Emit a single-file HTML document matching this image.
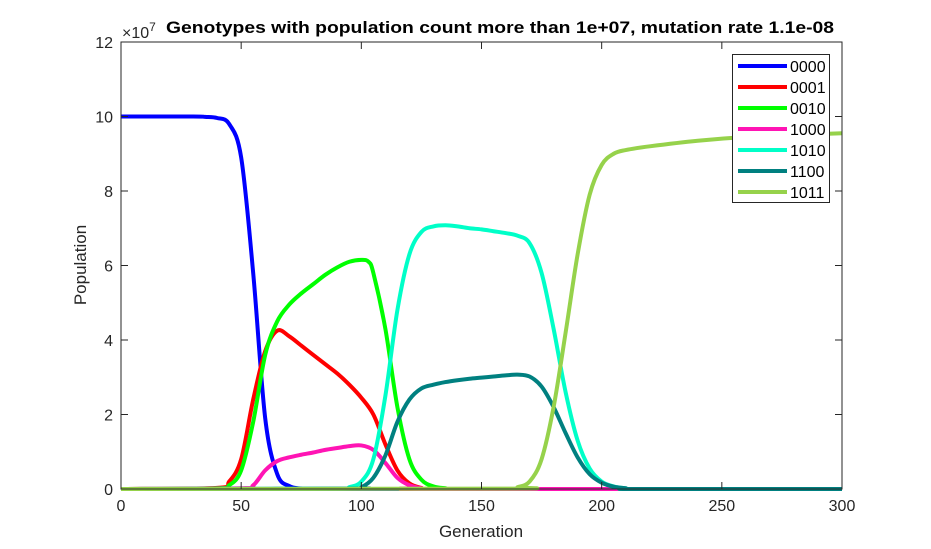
<!DOCTYPE html>
<html><head><meta charset="utf-8"><style>
body{margin:0;background:#fff;}
svg{display:block;font-family:"Liberation Sans",Arial,sans-serif;}
</style></head><body>
<svg id="chart" width="931" height="549">
<rect x="0" y="0" width="931" height="549" fill="#fff"/>
<g id="plot"></g>
<g id="axes"></g>
<text x="166" y="33" font-size="17" font-weight="bold" fill="#000" textLength="668" lengthAdjust="spacingAndGlyphs">Genotypes with population count more than 1e+07, mutation rate 1.1e-08</text>
<text x="122" y="38" font-size="16" fill="#262626">×10<tspan dy="-7" font-size="12">7</tspan></text>
<text x="481" y="537" text-anchor="middle" font-size="17" fill="#262626">Generation</text>
<text transform="translate(86,265) rotate(-90)" text-anchor="middle" font-size="17" fill="#262626">Population</text>
<g id="legend"></g>
</svg>
<script>
const xTicks=[0,50,100,150,200,250,300];
const yTicks=[0,2,4,6,8,10,12];
const seriesNames=["0000","0001","0010","1000","1010","1100","1011"];
const seriesColors=["#0000ff","#ff0000","#00ff00","#ff14b4","#00ffc8","#008080","#96d24b"];
const g0000=[0,30,35,40,45,50,55,60,65,70,75,80,300];
const v0000=[10,10,9.99,9.96,9.8,8.9,5.8,1.9,0.4,0.08,0.01,0,0];
const g0001=[0,40,45,50,55,60,65,70,75,80,85,90,95,100,105,110,115,120,125,130,300];
const v0001=[0,0.03,0.2,0.8,2.4,3.7,4.25,4.1,3.85,3.6,3.35,3.1,2.8,2.45,2.0,1.2,0.5,0.15,0.03,0,0];
const g0010=[0,40,45,50,55,60,65,70,75,80,85,90,95,100,103,105,110,115,120,125,130,135,140,300];
const v0010=[0,0.02,0.1,0.5,1.8,3.6,4.5,4.95,5.25,5.5,5.75,5.95,6.1,6.15,6.1,5.8,4.3,2.2,0.8,0.25,0.07,0.02,0,0];
const g1000=[0,50,55,60,65,70,75,80,85,90,95,100,105,110,115,120,125,130,300];
const v1000=[0,0.02,0.1,0.5,0.75,0.85,0.92,0.98,1.05,1.1,1.15,1.17,1.05,0.7,0.3,0.1,0.02,0,0];
const g1010=[0,90,95,100,105,110,115,120,125,130,135,140,145,150,155,160,165,170,175,180,185,190,195,200,205,210,215,300];
const v1010=[0,0.01,0.05,0.2,0.8,2.5,4.8,6.3,6.9,7.05,7.08,7.05,7.0,6.97,6.92,6.87,6.8,6.6,5.8,4.3,2.6,1.3,0.55,0.2,0.07,0.02,0,0];
const g1100=[0,95,100,105,110,115,120,125,130,135,140,145,150,155,160,165,170,175,180,185,190,195,200,205,210,215,300];
const v1100=[0,0.01,0.05,0.3,0.9,1.8,2.4,2.7,2.8,2.87,2.92,2.96,2.99,3.02,3.05,3.07,3.02,2.75,2.2,1.5,0.85,0.4,0.17,0.06,0.02,0,0];
const g1011=[0,160,165,170,175,180,185,190,195,200,205,210,220,240,260,280,300];
const v1011=[0,0.01,0.05,0.2,0.8,2.2,4.2,6.3,7.9,8.7,9.0,9.1,9.2,9.35,9.45,9.5,9.55];
const allGens=[g0000,g0001,g0010,g1000,g1010,g1100,g1011];
const allVals=[v0000,v0001,v0010,v1000,v1010,v1100,v1011];

const X0=121,X1=842,Y0=489,Y1=42;
const xs=v=>X0+(v-0)/(300-0)*(X1-X0);
const ys=v=>Y0-(v-0)/(12-0)*(Y0-Y1);
const NS="http://www.w3.org/2000/svg";
function mk(tag,attrs,parent){const e=document.createElementNS(NS,tag);for(const k in attrs)e.setAttribute(k,attrs[k]);parent.appendChild(e);return e;}
const plot=document.getElementById('plot'),axes=document.getElementById('axes'),legend=document.getElementById('legend');

function smoothPath(pts){
  let d="M"+pts[0][0].toFixed(2)+","+pts[0][1].toFixed(2);
  for(let i=0;i<pts.length-1;i++){
    const p0=pts[Math.max(0,i-1)],p1=pts[i],p2=pts[i+1],p3=pts[Math.min(pts.length-1,i+2)];
    const c1x=p1[0]+(p2[0]-p0[0])/6,c1y=p1[1]+(p2[1]-p0[1])/6;
    const c2x=p2[0]-(p3[0]-p1[0])/6,c2y=p2[1]-(p3[1]-p1[1])/6;
    d+=" C"+c1x.toFixed(2)+","+Math.min(Y0,c1y).toFixed(2)+" "+c2x.toFixed(2)+","+Math.min(Y0,c2y).toFixed(2)+" "+p2[0].toFixed(2)+","+p2[1].toFixed(2);
  }
  return d;
}
for(let s=0;s<seriesNames.length;s++){
  const pts=allGens[s].map((g,i)=>[xs(g),ys(allVals[s][i])]);
  const p=mk('path',{d:smoothPath(pts),fill:'none',stroke:seriesColors[s],'stroke-width':4,'stroke-linejoin':'round'},plot);
  
  
}
const box=mk('rect',{x:X0,y:Y1,width:X1-X0,height:Y0-Y1,fill:'none',stroke:'#262626','stroke-width':1},axes);


xTicks.forEach(t=>{
  const x=xs(t);
  mk('line',{x1:x,y1:Y0,x2:x,y2:Y0-7,stroke:'#262626'},axes);
  mk('line',{x1:x,y1:Y1,x2:x,y2:Y1+7,stroke:'#262626'},axes);
  const tx=mk('text',{x:x,y:Y0+22,'text-anchor':'middle','font-size':16,fill:'#262626'},axes);
  tx.textContent=t;
  
  
});
yTicks.forEach(t=>{
  const y=ys(t);
  mk('line',{x1:X0,y1:y,x2:X0+7,y2:y,stroke:'#262626'},axes);
  mk('line',{x1:X1,y1:y,x2:X1-7,y2:y,stroke:'#262626'},axes);
  const tx=mk('text',{x:X0-8,y:y+6,'text-anchor':'end','font-size':16,fill:'#262626'},axes);
  tx.textContent=t;
  
  
});
const lb=mk('rect',{x:732.5,y:54.5,width:97,height:148,fill:'#fff',stroke:'#262626','stroke-width':1},legend);


seriesNames.forEach((n,i)=>{
  const y=66+i*21;
  const l=mk('line',{x1:738,y1:y,x2:787,y2:y,stroke:seriesColors[i],'stroke-width':4},legend);
  
  
  const t=mk('text',{x:790,y:y+6,'font-size':16,fill:'#000'},legend);
  t.textContent=n;
  
  
});
</script>
</body></html>
